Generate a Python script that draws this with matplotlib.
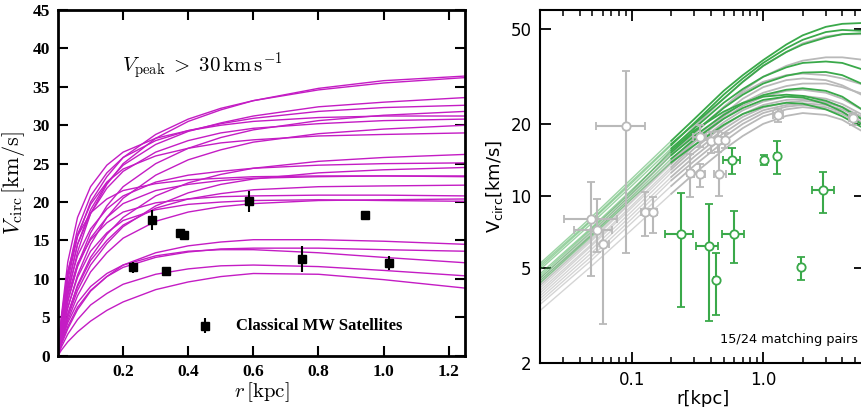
import numpy as np
import matplotlib
matplotlib.use("Agg")
import matplotlib.pyplot as plt
from matplotlib.ticker import FixedLocator, NullLocator, LogLocator, NullFormatter

# ---------- left panel data ----------
r_left = [0, 0.01, 0.03, 0.06, 0.1, 0.15, 0.2, 0.3, 0.4, 0.5, 0.6, 0.8, 1.0, 1.25]
curves_upper = [
    [0, 3.2, 8.0, 13.5, 18.5, 22.3, 25.0, 28.3, 30.5, 32.0, 33.2, 34.8, 35.8, 36.4],
    [0, 4.0, 9.8, 15.5, 20.0, 23.3, 25.8, 28.8, 30.8, 32.2, 33.2, 34.6, 35.5, 36.2],
    [0, 3.6, 9.0, 14.5, 19.0, 22.5, 24.8, 27.5, 29.2, 30.3, 31.2, 32.4, 33.0, 33.6],
    [0, 4.4, 10.8, 16.5, 20.8, 23.8, 25.8, 28.0, 29.3, 30.2, 30.9, 31.8, 32.3, 32.6],
    [0, 2.8, 7.0, 11.8, 16.0, 19.5, 22.0, 25.0, 27.0, 28.4, 29.4, 30.6, 31.3, 31.8],
    [0, 5.0, 12.2, 18.0, 22.0, 24.8, 26.5, 28.3, 29.3, 30.0, 30.5, 31.0, 31.2, 31.2],
    [0, 3.6, 9.0, 14.5, 18.5, 21.8, 24.0, 26.5, 28.0, 29.0, 29.6, 30.2, 30.6, 30.8],
    [0, 2.4, 6.2, 10.5, 14.5, 18.0, 20.5, 23.5, 25.5, 26.8, 27.8, 28.9, 29.5, 30.0],
    [0, 4.3, 10.4, 15.8, 19.7, 22.6, 24.3, 26.0, 27.0, 27.7, 28.1, 28.6, 28.8, 29.0],
    [0, 2.1, 5.4, 9.2, 12.8, 15.8, 18.0, 20.8, 22.5, 23.6, 24.4, 25.3, 25.8, 26.2],
    [0, 3.6, 8.6, 13.0, 16.5, 19.1, 20.8, 22.6, 23.5, 24.0, 24.4, 24.8, 25.0, 25.1],
    [0, 2.0, 5.0, 8.5, 11.8, 14.6, 16.8, 19.5, 21.2, 22.3, 23.0, 23.8, 24.2, 24.5],
    [0, 2.8, 7.2, 11.6, 15.3, 18.0, 19.8, 21.5, 22.3, 22.8, 23.1, 23.3, 23.4, 23.4],
    [0, 4.8, 11.0, 15.6, 18.6, 20.4, 21.5, 22.4, 22.9, 23.1, 23.3, 23.4, 23.4, 23.3],
    [0, 2.1, 5.4, 9.0, 12.4, 15.0, 17.0, 19.2, 20.4, 21.1, 21.6, 22.0, 22.1, 22.2],
    [0, 3.2, 7.8, 12.0, 15.1, 17.3, 18.7, 19.9, 20.4, 20.7, 20.8, 20.9, 20.9, 20.8],
    [0, 1.8, 4.6, 7.8, 10.9, 13.4, 15.3, 17.5, 18.7, 19.4, 19.8, 20.2, 20.3, 20.4],
    [0, 2.5, 6.3, 10.2, 13.6, 16.0, 17.6, 19.0, 19.7, 20.0, 20.2, 20.3, 20.2, 20.1],
]
curves_lower = [
    [0, 1.4, 3.5, 6.0, 8.4, 10.3, 11.8, 13.4, 14.3, 14.8, 15.1, 15.1, 14.9, 14.5],
    [0, 1.6, 3.8, 6.3, 8.5, 10.3, 11.5, 12.8, 13.5, 13.9, 14.0, 14.0, 13.8, 13.6],
    [0, 1.8, 4.3, 6.9, 9.0, 10.7, 11.8, 13.0, 13.6, 13.8, 13.8, 13.4, 12.8, 12.1],
    [0, 1.1, 2.8, 4.7, 6.6, 8.1, 9.3, 10.6, 11.3, 11.7, 11.8, 11.6, 11.1, 10.4],
    [0, 0.7, 1.8, 3.1, 4.5, 5.9, 7.0, 8.6, 9.6, 10.3, 10.7, 10.6, 9.9, 8.8],
]
mw_r = [0.230, 0.290, 0.333, 0.374, 0.387, 0.586, 0.749, 0.942, 1.016]
mw_v = [11.5, 17.65, 11.0, 16.0, 15.65, 20.1, 12.6, 18.3, 12.1]
mw_err = [0.76, 1.35, 0.3, 0.3, 0.6, 1.4, 1.7, 0.0, 0.9]

# ---------- right panel data ----------
r_right = [0.02, 0.05, 0.1, 0.2, 0.3, 0.5, 0.7, 1.0, 1.5, 2.0, 3.0, 4.0, 6.0]
green_curves = [
    [5.2, 8.2, 11.8, 17.0, 21.0, 27.5, 32.0, 37.0, 43.0, 47.0, 51.0, 52.5, 53.0],
    [5.0, 7.9, 11.3, 16.3, 20.2, 26.5, 31.0, 36.0, 41.5, 45.0, 48.5, 49.5, 49.0],
    [4.9, 7.7, 11.0, 15.8, 19.2, 24.5, 28.0, 31.5, 34.5, 36.0, 36.5, 36.0, 33.5],
    [4.7, 7.4, 10.6, 15.2, 18.5, 23.3, 26.5, 29.5, 31.8, 32.8, 33.0, 32.0, 29.0],
    [4.5, 7.1, 10.2, 14.8, 17.8, 21.8, 24.3, 26.4, 27.8, 28.2, 27.5, 26.0, 22.5],
    [4.4, 6.9, 9.9, 14.3, 17.2, 21.0, 23.3, 25.2, 26.0, 25.8, 24.2, 22.5, 19.5],
    [4.3, 6.8, 9.7, 13.8, 16.3, 19.8, 22.0, 23.6, 24.5, 24.3, 23.0, 21.5, 19.0],
    [4.6, 7.3, 10.4, 15.5, 18.8, 22.5, 24.5, 26.0, 26.5, 26.2, 25.0, 23.5, 20.5],
    [5.1, 8.0, 11.5, 16.5, 20.0, 25.5, 30.0, 35.0, 40.0, 43.0, 46.0, 47.5, 48.0],
]
gray_curves = [
    [4.5, 7.2, 10.5, 15.5, 19.5, 25.5, 30.0, 35.0, 40.0, 43.5, 46.5, 47.5, 47.5],
    [4.3, 6.9, 10.0, 14.8, 18.2, 23.5, 27.5, 31.5, 35.0, 36.8, 38.0, 38.0, 37.0],
    [4.2, 6.7, 9.7, 14.0, 17.5, 22.0, 25.5, 28.5, 30.5, 31.0, 30.5, 29.0, 26.0],
    [4.1, 6.5, 9.4, 13.6, 16.8, 21.0, 23.8, 26.0, 27.5, 27.8, 27.0, 25.5, 22.5],
    [4.0, 6.3, 9.1, 13.2, 16.3, 20.3, 22.8, 24.8, 26.0, 26.2, 25.5, 24.2, 21.5],
    [3.9, 6.2, 8.9, 12.9, 15.8, 19.6, 22.0, 24.0, 25.2, 25.4, 24.8, 23.5, 21.0],
    [3.8, 6.0, 8.6, 12.5, 15.2, 19.0, 21.4, 23.4, 24.6, 25.0, 24.5, 23.5, 21.0],
    [3.7, 5.8, 8.3, 12.0, 14.6, 18.3, 20.7, 22.8, 24.0, 24.4, 24.0, 23.0, 20.5],
    [3.6, 5.6, 8.0, 11.6, 14.0, 17.6, 20.0, 22.2, 23.6, 24.0, 23.5, 22.4, 20.0],
    [3.5, 5.4, 7.7, 11.0, 13.4, 16.8, 19.2, 21.5, 23.0, 23.5, 23.0, 22.0, 19.5],
    [3.3, 5.1, 7.2, 10.2, 12.4, 15.6, 17.8, 20.0, 21.6, 22.2, 21.8, 20.8, 18.3],
    [4.4, 7.0, 10.2, 15.0, 18.5, 23.5, 27.0, 30.0, 32.0, 32.5, 32.0, 31.0, 29.0],
    [4.2, 6.6, 9.5, 13.8, 17.0, 21.5, 24.5, 27.0, 28.8, 29.5, 29.5, 28.5, 26.5],
]
gray_r = [0.0485, 0.0546, 0.0608, 0.091, 0.127, 0.145, 0.275, 0.328, 0.328, 0.40, 0.45, 0.46, 0.51, 1.29, 4.8]
gray_v = [8.0, 7.2, 6.3, 19.6, 8.55, 8.55, 12.4, 17.7, 12.3, 17.0, 17.1, 12.3, 17.1, 21.8, 21.1]
gray_vlo = [4.6, 5.8, 2.9, 5.75, 6.75, 7.0, 9.9, 16.0, 10.9, 15.1, 15.3, 10.0, 15.8, 20.4, 19.8]
gray_vhi = [11.4, 9.7, 7.2, 33.4, 10.4, 9.9, 15.0, 19.8, 13.6, 18.5, 18.6, 16.5, 18.4, 23.0, 22.3]
gray_rlo = [0.0305, 0.036, 0.0545, 0.0538, 0.118, 0.136, 0.262, 0.29, 0.30, 0.38, 0.43, 0.42, 0.49, 1.18, 4.5]
gray_rhi = [0.0775, 0.071, 0.0667, 0.127, 0.137, 0.155, 0.29, 0.37, 0.36, 0.42, 0.47, 0.52, 0.53, 1.42, 5.1]

green_r = [0.237, 0.385, 0.437, 0.578, 0.60, 1.02, 1.27, 1.94, 2.87]
green_v = [6.9, 6.15, 4.45, 14.1, 6.93, 14.1, 14.7, 5.02, 10.6]
green_vlo = [3.43, 2.98, 3.15, 12.3, 5.2, 13.4, 12.3, 4.45, 8.5]
green_vhi = [10.3, 9.27, 5.75, 15.8, 8.6, 14.8, 17.0, 5.55, 12.6]
green_rlo = [0.18, 0.31, 0.42, 0.494, 0.486, 0.98, 1.24, 1.88, 2.34]
green_rhi = [0.292, 0.453, 0.455, 0.669, 0.72, 1.06, 1.30, 2.0, 3.48]

MAGENTA = '#c41cc4'
GREEN = '#3aa94a'
GRAY = '#b9b9b9'

fig = plt.figure(figsize=(8.61, 4.07), dpi=100)

# ================= left panel =================
ax1 = fig.add_axes([58 / 861, 1 - 355.7 / 407, 407 / 861, 345.7 / 407])
for c in curves_upper + curves_lower:
    ax1.plot(r_left, c, color=MAGENTA, lw=1.0)
ax1.errorbar(mw_r, mw_v, yerr=mw_err, fmt='s', color='black', ms=5.5, elinewidth=1.5, capsize=0)
ax1.errorbar([0.45], [3.9], yerr=[1.0], fmt='s', color='black', ms=5.5, elinewidth=1.5, capsize=0)
ax1.text(0.548, 3.9, 'Classical MW Satellites', fontsize=12, fontweight='bold',
         family='Liberation Serif', va='center', ha='left')
ax1.text(0.197, 37.6, r'$V_{\rm peak}\;>\;30\,{\rm km\,s^{-1}}$', fontsize=15,
         math_fontfamily='cm', va='center', ha='left')
ax1.set_xlim(0, 1.25)
ax1.set_ylim(0, 45)
ax1.set_xticks([0.2, 0.4, 0.6, 0.8, 1.0, 1.2])
ax1.set_xticklabels(['0.2', '0.4', '0.6', '0.8', '1.0', '1.2'])
ax1.set_yticks(range(0, 46, 5))
ax1.tick_params(direction='in', top=True, right=True, length=7, width=1.5, pad=6)
for lab in ax1.get_xticklabels() + ax1.get_yticklabels():
    lab.set_family('Liberation Serif')
    lab.set_fontweight('bold')
    lab.set_fontsize(12.5)
for s in ax1.spines.values():
    s.set_linewidth(2)
ax1.set_xlabel(r'$r\,[{\rm kpc}]$', fontsize=15, math_fontfamily='cm', labelpad=0)
ax1.set_ylabel(r'$V_{\rm circ}\,[{\rm km/s}]$', fontsize=16, math_fontfamily='cm', labelpad=4)

# ================= right panel =================
ax2 = fig.add_axes([540 / 861, 1 - 362.5 / 407, 325.4 / 861, 352.5 / 407])
ax2.set_xscale('log')
ax2.set_yscale('log')
split = 3  # index of r = 0.2 : light part inside, solid part outside
for c in gray_curves:
    ax2.plot(r_right[:split + 1], c[:split + 1], color=GRAY, lw=1.0, alpha=0.6)
    ax2.plot(r_right[split:], c[split:], color=GRAY, lw=1.3)
for c in green_curves:
    ax2.plot(r_right[:split + 1], c[:split + 1], color=GREEN, lw=1.0, alpha=0.5)
    ax2.plot(r_right[split:], c[split:], color=GREEN, lw=1.3)

g_xerr = [np.subtract(gray_r, gray_rlo), np.subtract(gray_rhi, gray_r)]
g_yerr = [np.subtract(gray_v, gray_vlo), np.subtract(gray_vhi, gray_v)]
ax2.errorbar(gray_r, gray_v, xerr=g_xerr, yerr=g_yerr, fmt='o', color=GRAY, mfc='white',
             mec=GRAY, ms=6, mew=1.3, elinewidth=1.5, capsize=3, capthick=1.5, zorder=3)
gr_xerr = [np.subtract(green_r, green_rlo), np.subtract(green_rhi, green_r)]
gr_yerr = [np.subtract(green_v, green_vlo), np.subtract(green_vhi, green_v)]
ax2.errorbar(green_r, green_v, xerr=gr_xerr, yerr=gr_yerr, fmt='o', color=GREEN, mfc='white',
             mec=GREEN, ms=6, mew=1.3, elinewidth=1.5, capsize=3, capthick=1.5, zorder=4)

ax2.set_xlim(0.02, 6)
ax2.set_ylim(2, 60)
ax2.xaxis.set_major_locator(FixedLocator([0.1, 1.0]))
ax2.set_xticklabels(['0.1', '1.0'])
ax2.xaxis.set_minor_locator(LogLocator(base=10, subs=np.arange(2, 10), numticks=20))
ax2.xaxis.set_minor_formatter(NullFormatter())
ax2.yaxis.set_major_locator(FixedLocator([2, 5, 10, 20, 50]))
ax2.set_yticklabels(['2', '5', '10', '20', '50'])
ax2.yaxis.set_minor_locator(NullLocator())
ax2.tick_params(which='major', direction='in', top=True, right=True, length=8, width=1.3,
                labelsize=12, pad=6)
ax2.tick_params(which='minor', direction='in', top=True, right=True, length=4, width=1.1)
for s in ax2.spines.values():
    s.set_linewidth(1.5)
ax2.set_xlabel('r[kpc]', fontsize=13, labelpad=1)
ax2.set_ylabel(r'V$_{\rm circ}$[km/s]', fontsize=13, math_fontfamily='dejavusans', labelpad=4)
ax2.text(0.553, 0.065, '15/24 matching pairs', transform=ax2.transAxes, fontsize=9.3,
         va='center', ha='left')

fig.savefig('out.png', dpi=100)
